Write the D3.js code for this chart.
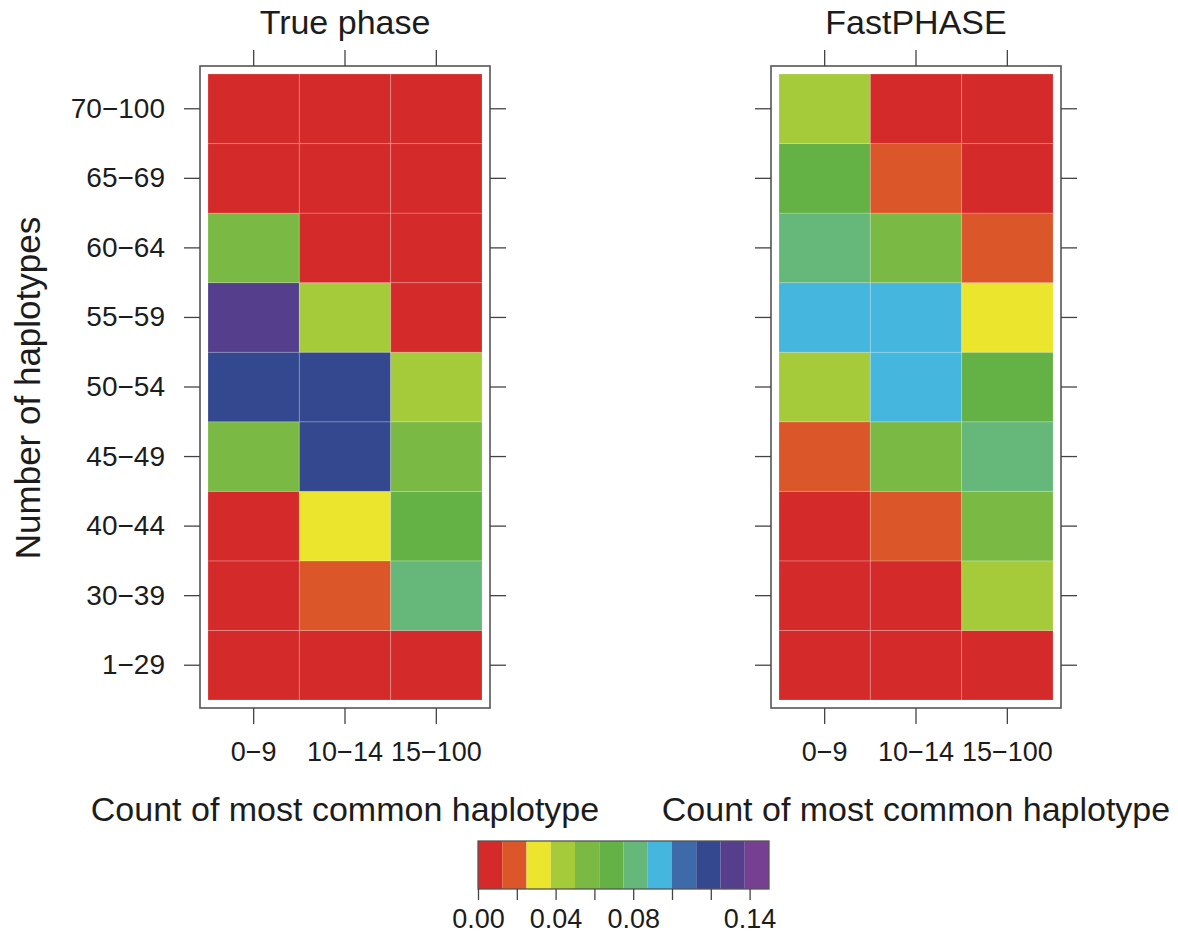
<!DOCTYPE html>
<html>
<head>
<meta charset="utf-8">
<script src="https://cdn.jsdelivr.net/npm/d3@7"></script>
<style>
  body { margin: 0; background: #fff; }
  svg text { font-family: 'Liberation Sans', Arial, Helvetica, sans-serif; fill: #1c1c1c; }
</style>
</head>
<body>
<div id="chart"></div>
<script>
const colCategories = ['0\u22129', '10\u221214', '15\u2212100'];
const rowCategories = ['1\u221229', '30\u221239', '40\u221244', '45\u221249', '50\u221254',
  '55\u221259', '60\u221264', '65\u221269', '70\u2212100'];

// rows listed bottom (1-29) to top (70-100), columns 0-9, 10-14, 15-100
const truePhase = [
  [0.005, 0.004, 0.006],
  [0.006, 0.019, 0.082],
  [0.004, 0.031, 0.068],
  [0.057, 0.118, 0.059],
  [0.120, 0.121, 0.044],
  [0.132, 0.045, 0.006],
  [0.058, 0.003, 0.005],
  [0.002, 0.004, 0.003],
  [0.003, 0.002, 0.004]
];

const fastPhase = [
  [0.004, 0.005, 0.006],
  [0.005, 0.006, 0.044],
  [0.007, 0.019, 0.062],
  [0.020, 0.057, 0.081],
  [0.045, 0.094, 0.068],
  [0.095, 0.093, 0.032],
  [0.082, 0.057, 0.020],
  [0.069, 0.018, 0.006],
  [0.046, 0.003, 0.004]
];

const legendColors = ['#d52a2a', '#db5628', '#ece52e', '#a6cb3a', '#7aba44', '#64b246',
  '#66b87a', '#45b6dd', '#3f6aaa', '#33488f', '#553f8c', '#773f92'];
const legendTicks = [0, 0.02, 0.04, 0.06, 0.08, 0.10, 0.12, 0.14];
const legendLabels = ['0.00', '', '0.04', '', '0.08', '', '', '0.14'];

const panelTitles = ['True phase', 'FastPHASE'];
const xTitle = 'Count of most common haplotype';
const yTitle = 'Number of haplotypes';

const width = 1178;
const height = 943;
const cellTop = 74;
const cellBottom = 700;
const cellWidth = 274;
const pad = 8;
const tickLen = 16;

const svg = d3
  .select('#chart')
  .append('svg')
  .attr('width', width)
  .attr('height', height);

const color = d3
  .scaleQuantize()
  .domain([0, 0.15])
  .range(legendColors);

const styleAxis = (g, fontSize) => {
  g.select('.domain').remove();
  g.selectAll('.tick line').attr('stroke', '#444').attr('stroke-width', 1.3);
  g.selectAll('.tick text')
    .attr('fill', '#1c1c1c')
    .style('font-size', `${fontSize}px`)
    .style('font-family', "'Liberation Sans', Arial, sans-serif");
};

const drawPanel = (left, title, values, labelY) => {
  const x = d3
    .scaleBand()
    .domain(colCategories)
    .range([left, left + cellWidth]);

  const y = d3
    .scaleBand()
    .domain(rowCategories)
    .range([cellBottom, cellTop]);

  const boxLeft = left - pad;
  const boxRight = left + cellWidth + pad;
  const boxTop = cellTop - pad;
  const boxBottom = cellBottom + pad;

  const cells = values.flatMap((row, i) =>
    row.map((v, j) => ({ row: rowCategories[i], col: colCategories[j], value: v }))
  );

  const g = svg.append('g');

  g.selectAll('.cell')
    .data(cells)
    .enter()
    .append('rect')
    .attr('class', 'cell')
    .attr('x', d => x(d.col))
    .attr('y', d => y(d.row))
    .attr('width', x.bandwidth())
    .attr('height', y.bandwidth())
    .attr('fill', d => color(d.value))
    .attr('stroke', 'rgba(255,255,255,0.18)')
    .attr('stroke-width', 1);

  g.append('rect')
    .attr('x', boxLeft)
    .attr('y', boxTop)
    .attr('width', boxRight - boxLeft)
    .attr('height', boxBottom - boxTop)
    .attr('fill', 'none')
    .attr('stroke', '#555')
    .attr('stroke-width', 1.6);

  g.append('g')
    .attr('transform', `translate(0, ${boxBottom})`)
    .call(d3.axisBottom(x).tickSize(tickLen).tickPadding(18))
    .call(a => styleAxis(a, 27));

  g.append('g')
    .attr('transform', `translate(0, ${boxTop})`)
    .call(d3.axisTop(x).tickSize(tickLen).tickFormat(''))
    .call(a => styleAxis(a, 27));

  g.append('g')
    .attr('transform', `translate(${boxLeft}, 0)`)
    .call(d3.axisLeft(y).tickSize(tickLen).tickPadding(19).tickFormat(labelY ? null : ''))
    .call(a => styleAxis(a, 28));

  g.append('g')
    .attr('transform', `translate(${boxRight}, 0)`)
    .call(d3.axisRight(y).tickSize(tickLen).tickFormat(''))
    .call(a => styleAxis(a, 28));

  const cx = left + cellWidth / 2;

  g.append('text')
    .attr('x', cx)
    .attr('y', 34)
    .attr('text-anchor', 'middle')
    .style('font-size', '34px')
    .text(title);

  g.append('text')
    .attr('x', cx)
    .attr('y', 821)
    .attr('text-anchor', 'middle')
    .style('font-size', '34px')
    .text(xTitle);
};

drawPanel(208, panelTitles[0], truePhase, true);
drawPanel(779, panelTitles[1], fastPhase, false);

svg
  .append('text')
  .attr('transform', `translate(40, 388) rotate(-90)`)
  .attr('text-anchor', 'middle')
  .style('font-size', '35px')
  .text(yTitle);

// colour key
const legendX = d3
  .scaleLinear()
  .domain([0, 0.15])
  .range([478, 769]);

const legendTop = 841;
const legendBottom = 889;

svg
  .append('g')
  .selectAll('rect')
  .data(legendColors)
  .enter()
  .append('rect')
  .attr('x', c => legendX(color.invertExtent(c)[0]))
  .attr('y', legendTop)
  .attr('width', c => legendX(color.invertExtent(c)[1]) - legendX(color.invertExtent(c)[0]))
  .attr('height', legendBottom - legendTop)
  .attr('fill', c => c);

svg
  .append('rect')
  .attr('x', legendX(0))
  .attr('y', legendTop)
  .attr('width', legendX(0.15) - legendX(0))
  .attr('height', legendBottom - legendTop)
  .attr('fill', 'none')
  .attr('stroke', '#555')
  .attr('stroke-width', 1.3);

svg
  .append('g')
  .attr('transform', `translate(0, ${legendBottom})`)
  .call(
    d3
      .axisBottom(legendX)
      .tickValues(legendTicks)
      .tickFormat((d, i) => legendLabels[i])
      .tickSize(11)
      .tickPadding(9)
  )
  .call(a => styleAxis(a, 27));
</script>
</body>
</html>
